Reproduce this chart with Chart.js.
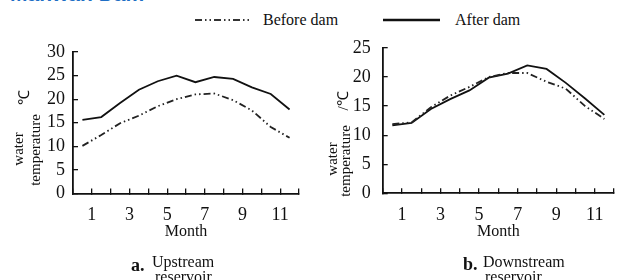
<!DOCTYPE html>
<html>
<head>
<meta charset="utf-8">
<script src="https://cdn.jsdelivr.net/npm/chart.js@4.4.1/dist/chart.umd.min.js"></script>
<style>
  body { margin: 0; background: #fff; width: 630px; height: 280px; overflow: hidden; position: relative;
         font-family: "Liberation Serif", serif; color: #111; }
  .box { position: absolute; top: 0; width: 315px; height: 280px; }
  .t { position: absolute; white-space: nowrap; line-height: 1; }
  .rot { transform: translate(-50%, -50%) rotate(-90deg); font-size: 15px; }
</style>
</head>
<body>
<div class="t" style="left:10px;top:-18px;font:bold 21px 'Liberation Sans',sans-serif;color:#1f6fc5">Manwan Dam</div>

<!-- legend -->
<svg width="630" height="40" style="position:absolute;left:0;top:0">
  <line x1="195" y1="20" x2="252" y2="20" stroke="#333" stroke-width="2" stroke-dasharray="7 3 1.5 3 1.5 3"/>
  <line x1="383" y1="20" x2="440" y2="20" stroke="#111" stroke-width="2.6"/>
</svg>
<div class="t" style="left:263px;top:12px;font-size:16px">Before dam</div>
<div class="t" style="left:455px;top:12px;font-size:16px">After dam</div>

<div class="box" style="left:0"><canvas id="up" width="315" height="280"></canvas></div>
<div class="box" style="left:315px"><canvas id="down" width="315" height="280"></canvas></div>

<!-- y axis titles -->
<div class="t rot" style="left:18px;top:149px">water</div>
<div class="t rot" style="left:35px;top:150px">temperature</div>
<div class="t rot" style="left:24px;top:97px">℃</div>
<div class="t rot" style="left:332px;top:159px">water</div>
<div class="t rot" style="left:345px;top:161px">temperature</div>
<div class="t rot" style="left:343px;top:101px">/℃</div>

<!-- captions -->
<div class="t" style="left:131px;top:256px;font-size:18px;font-weight:bold">a.</div>
<div class="t" style="left:152px;top:254px;font-size:16px">Upstream</div>
<div class="t" style="left:155px;top:269px;font-size:16px">reservoir</div>
<div class="t" style="left:463px;top:255px;font-size:18px;font-weight:bold">b.</div>
<div class="t" style="left:483px;top:254px;font-size:16px">Downstream</div>
<div class="t" style="left:485px;top:269px;font-size:16px">reservoir</div>

<script>
// month positions (points sit mid-month)
const monthPos = [0.5, 1.5, 2.5, 3.5, 4.5, 5.5, 6.5, 7.5, 8.5, 9.5, 10.5, 11.5];
const shownMonths = [1, 3, 5, 7, 9, 11];

// a. upstream reservoir
const upBefore = [10.1, 12.4, 14.9, 16.5, 18.5, 20.0, 21.0, 21.2, 19.8, 17.6, 14.1, 11.8];
const upAfter  = [15.6, 16.2, 19.2, 22.0, 23.8, 25.0, 23.6, 24.7, 24.3, 22.5, 21.1, 17.8];

// b. downstream reservoir
const downBefore = [11.9, 12.2, 14.8, 16.8, 18.3, 20.0, 20.7, 20.7, 19.2, 18.0, 15.0, 12.8];
const downAfter  = [11.7, 12.1, 14.5, 16.2, 17.7, 19.9, 20.6, 22.0, 21.4, 19.0, 16.3, 13.5];

const ink = '#111';
const serif = 'Liberation Serif';

function pts(vals) {
  return monthPos.map((m, i) => ({ x: m, y: vals[i] }));
}

function makeChart(id, before, after, yMax, yWidth, yPad, pad) {
  return new Chart(document.getElementById(id), {
    type: 'line',
    data: {
      datasets: [
        { label: 'Before dam', data: pts(before), borderColor: '#222', borderWidth: 1.8,
          borderDash: [7, 3, 1.5, 3, 1.5, 3], pointRadius: 0, tension: 0 },
        { label: 'After dam', data: pts(after), borderColor: ink, borderWidth: 1.8,
          pointRadius: 0, tension: 0 }
      ]
    },
    options: {
      responsive: false,
      animation: false,
      layout: { padding: pad },
      plugins: { legend: { display: false }, tooltip: { enabled: false } },
      scales: {
        x: {
          type: 'linear', min: 0, max: 12,
          border: { color: ink, width: 1.8 },
          grid: { drawOnChartArea: false, color: ink, lineWidth: 1.3, tickLength: -5 },
          ticks: {
            stepSize: 1, autoSkip: false, maxRotation: 0, padding: 16, color: ink,
            font: { family: serif, size: 18 },
            callback: v => shownMonths.includes(v) ? String(v) : ''
          },
          title: { display: true, text: 'Month', color: ink, padding: 0,
                   font: { family: serif, size: 16 } },
          afterFit: s => { s.height = 48; }
        },
        y: {
          min: 0, max: yMax,
          border: { color: ink, width: 1.8 },
          grid: { drawOnChartArea: false, color: ink, lineWidth: 1.3, tickLength: -5 },
          ticks: { stepSize: 5, autoSkip: false, padding: yPad, color: ink,
                   font: { family: serif, size: 18 } },
          afterFit: s => { s.width = yWidth; }
        }
      }
    }
  });
}

makeChart('up', upBefore, upAfter, 30, 73, 13, { left: 0, right: 9, top: 52, bottom: 38.5 });
makeChart('down', downBefore, downAfter, 25, 67.7, 17, { left: 0, right: 1, top: 48, bottom: 38.7 });
</script>
</body>
</html>
